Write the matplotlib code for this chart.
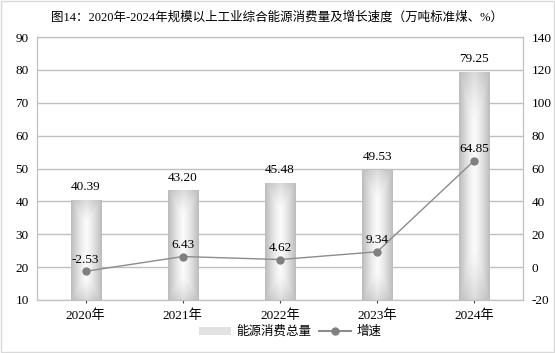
import numpy as np
import matplotlib.pyplot as plt
from matplotlib.colors import LinearSegmentedColormap
from matplotlib.patches import Patch
from matplotlib.lines import Line2D

plt.rcParams['font.family'] = ['Liberation Serif', 'Noto Sans CJK SC', 'DejaVu Sans']
plt.rcParams['axes.unicode_minus'] = False

years = ['2020年', '2021年', '2022年', '2023年', '2024年']
consumption = [40.39, 43.20, 45.48, 49.53, 79.25]
growth = [-2.53, 6.43, 4.62, 9.34, 64.85]

fig = plt.figure(figsize=(5.55, 3.53), dpi=100)
# plot area in pixels: x 37..523, y 37..300
ax = fig.add_axes([37/555, 1 - 300/353, 486/555, 263/353])
ax2 = ax.twinx()

grid_c = '#c0c0c0'
cmap = LinearSegmentedColormap.from_list('bar', ['#fbfbfb', '#bcbcbc'])

# gradient image for the bars (light centre, darker edges, hourglass shading)
u = np.linspace(-1, 1, 60)
t = np.linspace(-1, 1, 200)
U, T = np.meshgrid(u, t)
shade = np.clip(np.maximum(np.abs(U) ** 1.3, 0.75 * np.abs(T) ** 2 - 0.25 + 0.45 * np.abs(U)), 0, 1)

w = 0.31
x = np.arange(len(years))
for xi, v in zip(x, consumption):
    ax.imshow(shade, cmap=cmap, vmin=0, vmax=1, extent=[xi - w/2, xi + w/2, 10, v],
              aspect='auto', zorder=2, interpolation='bilinear')
    ax.text(xi, v + 2.2, f'{v:.2f}', ha='center', va='bottom', fontsize=9.5)

ax.set_xlim(-0.5, len(years) - 0.5)
ax.set_ylim(10, 90)
ax.set_yticks(range(10, 91, 10))
ax.set_xticks(x)
ax.set_xticklabels(years)
ax.yaxis.grid(True, color=grid_c, linewidth=1)
ax.set_axisbelow(True)
ax.tick_params(axis='y', length=0, labelsize=9.5, pad=6)
ax.tick_params(axis='x', length=2, color='#404040', labelsize=9.5, pad=5)

ax2.plot(x, growth, color='#8c8c8c', linewidth=1, marker='o', markersize=5,
         markerfacecolor='#808080', markeredgecolor='#808080', zorder=3)
for xi, g in zip(x, growth):
    ax2.text(xi, g + 3.5, f'{g:.2f}', ha='center', va='bottom', fontsize=9.5)
ax2.set_ylim(-20, 140)
ax2.set_yticks(range(-20, 141, 20))
ax2.tick_params(axis='y', length=0, labelsize=9.5, pad=6)

for a in (ax, ax2):
    for s in a.spines.values():
        s.set_color(grid_c)

fig.text(0.5, 1 - 17/353, '图14：2020年-2024年规模以上工业综合能源消费量及增长速度（万吨标准煤、%）',
         ha='center', va='center', fontsize=9)

handles = [Patch(facecolor='#e2e2e2', edgecolor='none'),
           Line2D([0], [0], color='#8c8c8c', marker='o', markersize=5,
                  markerfacecolor='#808080', markeredgecolor='#808080')]
fig.legend(handles, ['能源消费总量', '增速'], loc='center', bbox_to_anchor=(290/555, 1 - 332/353),
           ncol=2, frameon=False, fontsize=9, handlelength=2.6, handleheight=0.6,
           columnspacing=0.6, handletextpad=0.4)

# thin light frame around the figure
fig.patches.append(plt.Rectangle((0.001, 0.002), 0.997, 0.996, transform=fig.transFigure,
                                 fill=False, edgecolor='#d9d9d9', linewidth=1))

fig.savefig('out.png', dpi=100)
